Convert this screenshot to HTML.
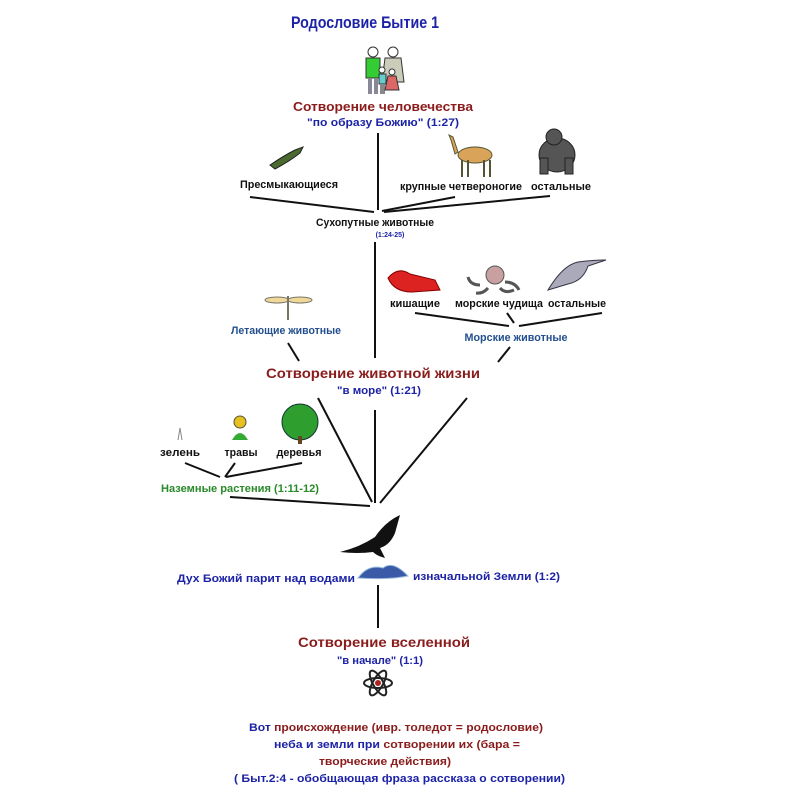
<!DOCTYPE html>
<html><head><meta charset="utf-8"><style>html,body{margin:0;padding:0;background:#fff}svg{display:block}text{font-family:"Liberation Sans",Arial,sans-serif;font-weight:bold}</style></head><body>
<svg width="800" height="800" viewBox="0 0 800 800" xmlns="http://www.w3.org/2000/svg">
<rect width="800" height="800" fill="#fff"/>
<text x="365" y="28" font-size="17" fill="#1c23a6" text-anchor="middle" textLength="148" lengthAdjust="spacingAndGlyphs">Родословие Бытие 1</text>
<!-- people -->
<g>
<circle cx="373" cy="52" r="5" fill="#fff" stroke="#333"/><rect x="366" y="58" width="14" height="20" fill="#3c3" stroke="#333"/><rect x="368" y="78" width="4" height="16" fill="#889"/><rect x="374" y="78" width="4" height="16" fill="#889"/>
<circle cx="393" cy="52" r="5" fill="#fff" stroke="#333"/><path d="M385 58h16l3 24h-22z" fill="#ccb" stroke="#333"/>
<circle cx="382" cy="70" r="3" fill="#fff" stroke="#333"/><rect x="379" y="74" width="7" height="10" fill="#6cc" stroke="#333"/><rect x="380" y="84" width="5" height="10" fill="#888"/>
<circle cx="392" cy="72" r="3" fill="#fff" stroke="#333"/><path d="M388 76h8l3 14h-14z" fill="#d66" stroke="#333"/>
</g>
<text x="383" y="111" font-size="13" fill="#8a1c1c" text-anchor="middle" textLength="180" lengthAdjust="spacingAndGlyphs">Сотворение человечества</text>
<text x="383" y="126" font-size="11" fill="#1c23a6" text-anchor="middle" textLength="152" lengthAdjust="spacingAndGlyphs">"по образу Божию" (1:27)</text>
<g stroke="#111" stroke-width="2" fill="none">
<line x1="378" y1="133" x2="378" y2="210"/>
<line x1="250" y1="197" x2="374" y2="212"/>
<line x1="455" y1="197" x2="382" y2="211"/>
<line x1="550" y1="196" x2="384" y2="212"/>
<line x1="375" y1="242" x2="375" y2="358"/>
<line x1="415" y1="313" x2="509" y2="326"/>
<line x1="507" y1="313" x2="514" y2="323"/>
<line x1="602" y1="313" x2="519" y2="326"/>
<line x1="510" y1="347" x2="498" y2="362"/>
<line x1="288" y1="343" x2="299" y2="361"/>
<line x1="318" y1="398" x2="372" y2="502"/>
<line x1="375" y1="410" x2="375" y2="503"/>
<line x1="467" y1="398" x2="380" y2="503"/>
<line x1="185" y1="463" x2="220" y2="477"/>
<line x1="235" y1="463" x2="225" y2="477"/>
<line x1="302" y1="463" x2="226" y2="477"/>
<line x1="230" y1="497" x2="370" y2="506"/>
<line x1="378" y1="585" x2="378" y2="628"/>
</g>
<!-- lizard -->
<path d="M270 165 q15 -10 25 -15 l8 -3 l-3 6 q-10 8 -25 16z" fill="#4a6a30" stroke="#222"/>
<!-- camel -->
<g fill="#d9a35a" stroke="#553"><ellipse cx="475" cy="155" rx="17" ry="8"/><path d="M458 152 l-5 -15 l-4 -2 l2 5 l4 14z"/><path d="M462 160v17M468 160v17M484 160v17M490 160v17" stroke="#553" stroke-width="2"/></g>
<!-- gorilla -->
<g fill="#555" stroke="#222"><ellipse cx="557" cy="155" rx="18" ry="17"/><circle cx="554" cy="137" r="8"/><rect x="540" y="158" width="8" height="16"/><rect x="565" y="158" width="8" height="16"/></g>
<text x="289" y="188" font-size="11" fill="#111" text-anchor="middle" textLength="98" lengthAdjust="spacingAndGlyphs">Пресмыкающиеся</text>
<text x="461" y="190" font-size="11" fill="#111" text-anchor="middle" textLength="122" lengthAdjust="spacingAndGlyphs">крупные четвероногие</text>
<text x="561" y="190" font-size="11" fill="#111" text-anchor="middle" textLength="60" lengthAdjust="spacingAndGlyphs">остальные</text>
<text x="375" y="226" font-size="11" fill="#111" text-anchor="middle" textLength="118" lengthAdjust="spacingAndGlyphs">Сухопутные животные</text>
<text x="390" y="237" font-size="7" fill="#1c23a6" text-anchor="middle">(1:24-25)</text>
<!-- lobster, octopus, dolphin -->
<path d="M388 278 q10 -12 22 -4 l25 6 l5 10 l-28 2 q-18 0 -24 -14z" fill="#d22" stroke="#800"/>
<g fill="#c9a0a0" stroke="#555"><circle cx="495" cy="275" r="9"/><path d="M480 285 q-10 0 -12 -8M488 288 q-5 6 -12 5M500 288 q5 6 14 2M505 282 q10 0 14 8" fill="none" stroke-width="3"/></g>
<path d="M548 290 q15 -25 30 -28 q15 -2 28 -2 l-18 6 q-5 15 -20 18 z" fill="#aab" stroke="#334"/>
<text x="415" y="307" font-size="11" fill="#111" text-anchor="middle" textLength="50" lengthAdjust="spacingAndGlyphs">кишащие</text>
<text x="499" y="307" font-size="11" fill="#111" text-anchor="middle" textLength="88" lengthAdjust="spacingAndGlyphs">морские чудища</text>
<text x="577" y="307" font-size="11" fill="#111" text-anchor="middle" textLength="58" lengthAdjust="spacingAndGlyphs">остальные</text>
<text x="516" y="341" font-size="11" fill="#245090" text-anchor="middle" textLength="103" lengthAdjust="spacingAndGlyphs">Морские животные</text>
<!-- dragonfly -->
<g stroke="#776" fill="#f1d89a"><ellipse cx="277" cy="300" rx="12" ry="3"/><ellipse cx="300" cy="300" rx="12" ry="3"/><line x1="288" y1="296" x2="288" y2="320" stroke-width="2"/></g>
<text x="286" y="334" font-size="11" fill="#245090" text-anchor="middle" textLength="110" lengthAdjust="spacingAndGlyphs">Летающие животные</text>
<text x="373" y="378" font-size="14" fill="#8a1c1c" text-anchor="middle" textLength="214" lengthAdjust="spacingAndGlyphs">Сотворение животной жизни</text>
<text x="379" y="394" font-size="11" fill="#1c23a6" text-anchor="middle" textLength="84" lengthAdjust="spacingAndGlyphs">"в море" (1:21)</text>
<!-- plants -->
<path d="M178 440 l2 -12 l2 12" stroke="#888" fill="none"/>
<circle cx="240" cy="422" r="6" fill="#e8c020" stroke="#553"/><path d="M232 440 q8 -14 16 0z" fill="#3a3"/>
<circle cx="300" cy="422" r="18" fill="#2e9e2e" stroke="#133"/><rect x="298" y="436" width="4" height="8" fill="#642"/>
<text x="180" y="456" font-size="11" fill="#111" text-anchor="middle" textLength="40" lengthAdjust="spacingAndGlyphs">зелень</text>
<text x="241" y="456" font-size="11" fill="#111" text-anchor="middle" textLength="33" lengthAdjust="spacingAndGlyphs">травы</text>
<text x="299" y="456" font-size="11" fill="#111" text-anchor="middle" textLength="45" lengthAdjust="spacingAndGlyphs">деревья</text>
<text x="240" y="492" font-size="11" fill="#2a8a2a" text-anchor="middle" textLength="158" lengthAdjust="spacingAndGlyphs">Наземные растения (1:11-12)</text>
<!-- eagle -->
<path d="M340 552 q20 -5 35 -15 q10 -15 25 -22 l-5 18 q-5 12 -15 15 l5 10 q-8 -2 -12 -6 q-15 2 -33 0z" fill="#111"/>
<!-- waves -->
<path d="M358 578 q10 -14 25 -10 q10 -8 25 8 q-20 4 -50 2z" fill="#3a5aa8" stroke="#9bd"/>
<text x="355" y="582" font-size="11" fill="#1c23a6" text-anchor="end" textLength="178" lengthAdjust="spacingAndGlyphs">Дух Божий парит над водами</text>
<text x="413" y="580" font-size="11" fill="#1c23a6" textLength="147" lengthAdjust="spacingAndGlyphs">изначальной Земли (1:2)</text>
<text x="384" y="647" font-size="14" fill="#8a1c1c" text-anchor="middle" textLength="172" lengthAdjust="spacingAndGlyphs">Сотворение вселенной</text>
<text x="380" y="664" font-size="11" fill="#1c23a6" text-anchor="middle" textLength="86" lengthAdjust="spacingAndGlyphs">"в начале" (1:1)</text>
<!-- atom -->
<g fill="none" stroke="#222" stroke-width="2"><ellipse cx="378" cy="683" rx="14" ry="5"/><ellipse cx="378" cy="683" rx="14" ry="5" transform="rotate(60 378 683)"/><ellipse cx="378" cy="683" rx="14" ry="5" transform="rotate(-60 378 683)"/></g>
<circle cx="378" cy="683" r="3" fill="#a22"/>
<text x="249" y="731" font-size="11" textLength="294" lengthAdjust="spacingAndGlyphs"><tspan fill="#1c23a6">Вот </tspan><tspan fill="#8a1c1c">происхождение (ивр. толедот = родословие)</tspan></text>
<text x="274" y="748" font-size="11" textLength="246" lengthAdjust="spacingAndGlyphs"><tspan fill="#1c23a6">неба и земли при </tspan><tspan fill="#8a1c1c">сотворении их (бара =</tspan></text>
<text x="319" y="765" font-size="11" fill="#8a1c1c" textLength="132" lengthAdjust="spacingAndGlyphs">творческие действия)</text>
<text x="234" y="782" font-size="11" fill="#1c23a6" textLength="331" lengthAdjust="spacingAndGlyphs">( Быт.2:4 - обобщающая фраза рассказа о сотворении)</text>
</svg>
</body></html>
